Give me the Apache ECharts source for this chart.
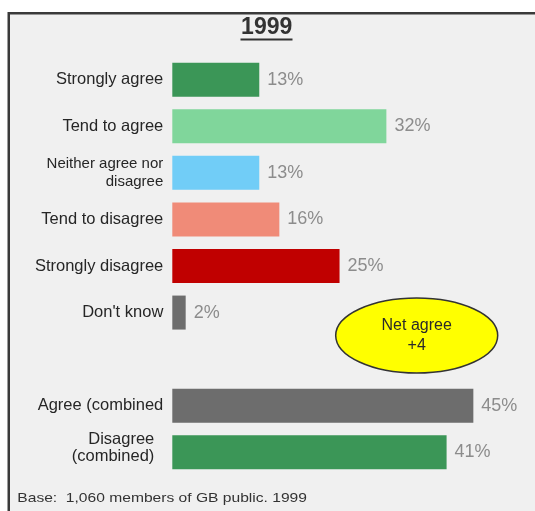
<!DOCTYPE html>
<html>
<head>
<meta charset="utf-8">
<script src="https://cdn.jsdelivr.net/npm/echarts@6/dist/echarts.min.js"></script>
<style>
  html, body { margin: 0; padding: 0; background: #ffffff; }
  #chart { width: 535px; height: 511px; }
</style>
</head>
<body>
<div id="chart"></div>
<script>
// Survey answers, 1999 (percent of respondents)
const categories = [
  'Strongly agree',
  'Tend to agree',
  'Neither agree nor\ndisagree',
  'Tend to disagree',
  'Strongly disagree',
  "Don't know",
  '',
  'Agree (combined',
  'Disagree\n(combined)'
];
const values = [13, 32, 13, 16, 25, 2, null, 45, 41];
const barColors = ['#3b9657', '#80d69b', '#71cdf7', '#f08b78', '#c00000', '#6d6d6d', null, '#6d6d6d', '#3b9657'];

const titleText = '1999';
const footnote = 'Base:  1,060 members of GB public. 1999';
const netAgree = values[7] - values[8];

const FONT = '"Liberation Sans", Arial, sans-serif';

const chart = echarts.init(document.getElementById('chart'), null, { renderer: 'canvas' });

const option = {
  backgroundColor: '#ffffff',
  animation: false,
  grid: {
    left: 172.3,
    top: 56.4,
    width: 334.5,
    height: 419.2,
    containLabel: false,
    outerBoundsMode: 'none'
  },
  xAxis: {
    type: 'value',
    min: 0,
    max: 50,
    show: false
  },
  yAxis: {
    type: 'category',
    inverse: true,
    data: categories,
    axisLine: { show: false },
    axisTick: { show: false },
    splitLine: { show: false },
    axisLabel: {
      margin: 9,
      fontFamily: FONT,
      fontSize: 16.5,
      color: '#262626',
      formatter: function (val, idx) {
        if (idx === 2) {
          return val.split('\n').map(s => '{n|' + s + '}').join('\n');
        }
        if (idx === 8) {
          return val.split('\n').map(s => '{d|' + s + '}').join('\n');
        }
        return val;
      },
      rich: {
        n: { fontFamily: FONT, fontSize: 15, lineHeight: 18, color: '#262626' },
        d: { fontFamily: FONT, fontSize: 16.5, lineHeight: 17, color: '#262626', padding: [0, 9, 8, 0] }
      }
    }
  },
  series: [{
    type: 'bar',
    barWidth: 34,
    data: values.map((v, i) => v == null ? '-' : { value: v, itemStyle: { color: barColors[i] } }),
    label: {
      show: true,
      position: 'right',
      distance: 8,
      formatter: '{c}%',
      fontFamily: FONT,
      fontSize: 18,
      color: '#8c8c8c'
    }
  }],
  graphic: [
    {
      type: 'rect',
      z: -10,
      silent: true,
      shape: { x: 8.75, y: 13.25, width: 640, height: 600 },
      style: { fill: '#f0f0f0', stroke: '#3a3a3a', lineWidth: 2.5 }
    },
    {
      type: 'text',
      x: 266.7,
      y: 27.5,
      style: {
        text: titleText,
        fontFamily: FONT,
        fontSize: 23,
        fontWeight: 'bold',
        fill: '#333333',
        align: 'center',
        verticalAlign: 'middle'
      }
    },
    {
      type: 'line',
      shape: { x1: 240.5, y1: 39.5, x2: 292.5, y2: 39.5 },
      style: { stroke: '#333333', lineWidth: 1.8 }
    },
    {
      type: 'ellipse',
      z: 10,
      shape: { cx: 416.7, cy: 335.5, rx: 81, ry: 37.5 },
      style: { fill: '#ffff00', stroke: '#333333', lineWidth: 1.5 }
    },
    {
      type: 'text',
      z: 11,
      x: 416.7,
      y: 335.5,
      style: {
        text: 'Net agree\n' + (netAgree >= 0 ? '+' : '') + netAgree,
        fontFamily: FONT,
        fontSize: 16,
        lineHeight: 20,
        fill: '#2a2a2a',
        align: 'center',
        verticalAlign: 'middle'
      }
    },
    {
      type: 'text',
      x: 17.3,
      y: 498,
      scaleX: 1.2,
      style: {
        text: footnote,
        fontFamily: FONT,
        fontSize: 13,
        fill: '#333333',
        align: 'left',
        verticalAlign: 'middle'
      }
    }
  ]
};

chart.setOption(option);
</script>
</body>
</html>
